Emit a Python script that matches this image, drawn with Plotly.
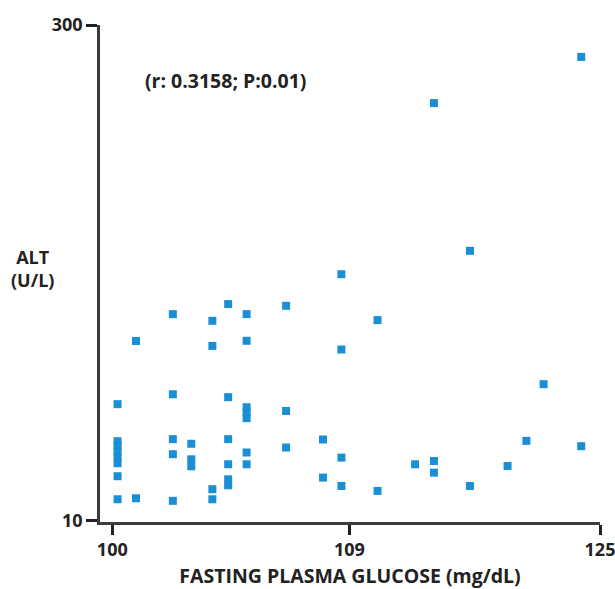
import numpy as np
import plotly.graph_objects as go

# Fasting plasma glucose (mg/dL) and ALT (U/L)
glucose = [
    100.2, 100.2, 100.2, 100.2, 100.2, 100.2, 100.2, 100.2,
    100.9, 100.9,
    102.3, 102.3, 102.3, 102.3, 102.3,
    103.0, 103.0, 103.0,
    103.8, 103.8, 103.8, 103.8,
    104.4, 104.4, 104.4, 104.4, 104.4, 104.4,
    105.1, 105.1, 105.1, 105.1, 105.1, 105.1, 105.1,
    106.6, 106.6, 106.6,
    108.0, 108.0,
    108.7, 108.7, 108.7, 108.7,
    110.8, 110.8,
    113.2,
    114.4, 114.4, 114.4,
    116.7, 116.7,
    119.1,
    120.3,
    121.4,
    123.8, 123.8,
]
alt = [
    78.0, 56.3, 53.4, 50.4, 46.9, 43.4, 35.8, 22.3,
    115.0, 22.9,
    130.7, 83.8, 57.5, 48.7, 21.4,
    54.8, 45.7, 41.6,
    126.8, 112.1, 28.2, 22.3,
    136.6, 82.1, 57.5, 42.8, 34.0, 30.5,
    130.7, 115.1, 76.2, 73.3, 69.8, 49.7, 42.8,
    135.6, 74.0, 52.6,
    57.3, 35.0,
    154.1, 110.0, 46.7, 30.1,
    127.2, 27.2,
    42.8,
    254.3, 44.7, 37.9,
    167.8, 30.1,
    41.8,
    56.5,
    89.7,
    281.3, 53.4,
]

# x axis as printed: tick labels are unevenly spaced (piecewise scale)
x_tick_values = [100, 109, 125]
x_tick_labels = ["100", "109", "125"]
x_axis_pos = [0.0, 0.486, 1.0]

y_tick_values = [10, 300]
y_tick_labels = ["10", "300"]

annotation_text = "(r: 0.3158; P:0.01)"
x_title = "FASTING PLASMA GLUCOSE (mg/dL)"
y_title = "ALT<br>(U/L)"


def to_axis(g):
    return np.interp(g, x_tick_values, x_axis_pos)


FONT = "Open Sans"
AXCOL = "#3a3d40"
TXT = "#222222"

fig = go.Figure()
fig.add_trace(go.Scatter(
    x=to_axis(glucose), y=alt, mode="markers",
    marker=dict(symbol="square", size=8, color="#1b8fd5", line=dict(width=0)),
    hoverinfo="skip", showlegend=False,
))

fig.update_layout(
    width=615, height=589,
    margin=dict(l=100, r=15, t=25, b=67, autoexpand=False),
    paper_bgcolor="white", plot_bgcolor="white",
    font=dict(family=FONT, color=TXT),
    xaxis=dict(
        range=[-0.0252, 1.0], automargin=False,
        tickmode="array", tickvals=to_axis(x_tick_values), ticktext=x_tick_labels,
        ticks="outside", ticklen=10, tickwidth=3, tickcolor=TXT,
        ticklabeloverflow="allow",
        showline=True, linecolor=AXCOL, linewidth=2.5,
        showgrid=False, zeroline=False,
        tickfont=dict(size=18, family=FONT, weight="bold", color=TXT),
        title=dict(text="<b>" + x_title + "</b>", standoff=10,
                   font=dict(size=19.5, family=FONT, color=TXT)),
    ),
    yaxis=dict(
        range=[9, 300], automargin=False,
        tickmode="array", tickvals=y_tick_values, ticktext=y_tick_labels,
        ticks="outside", ticklen=11, tickwidth=3, tickcolor=TXT,
        ticklabeloverflow="allow",
        showline=True, linecolor=AXCOL, linewidth=2.5,
        showgrid=False, zeroline=False,
        tickfont=dict(size=18, family=FONT, weight="bold", color=TXT),
    ),
    annotations=[
        dict(text="<b>" + annotation_text + "</b>", xref="paper", yref="paper",
             x=0.086, y=0.889, xanchor="left", yanchor="middle", showarrow=False,
             font=dict(size=19.5, family=FONT, color=TXT)),
        dict(text="<b>" + y_title + "</b>", xref="paper", yref="paper",
             x=-0.135, y=0.51, xanchor="center", yanchor="middle", showarrow=False,
             align="center",
             font=dict(size=18, family=FONT, color=TXT)),
    ],
)

fig.write_html(
    "out.html",
    config={"displayModeBar": False},
    post_script="document.body.style.margin='0';document.body.style.overflow='hidden';",
)
